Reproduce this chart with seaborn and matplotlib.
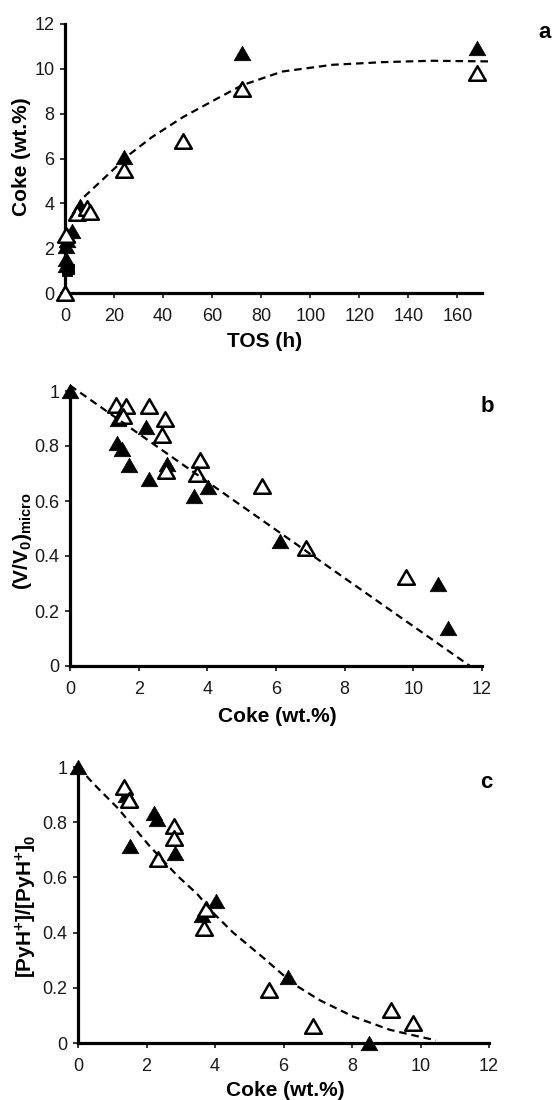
import numpy as np
import pandas as pd
import matplotlib
matplotlib.use("Agg")
import matplotlib.pyplot as plt
from matplotlib.path import Path
import seaborn as sns

# ---------------- data ----------------
# (a) coke content vs time on stream
a_fill_tos = [0, 0.25, 0.5, 0.5, 1, 1, 3, 6, 24, 72, 168]
a_fill_coke = [0, 1.25, 1.5, 2.1, 2.35, 2.6, 2.75, 3.9, 6.05, 10.7, 10.95]
a_open_tos = [0, 0.5, 5, 9, 10, 24, 48, 72, 168]
a_open_coke = [0, 2.6, 3.55, 3.8, 3.6, 5.5, 6.8, 9.1, 9.8]
a_sq_tos = [0.75, 1.5]
a_sq_coke = [1.0, 1.05]
a_trend_tos = [2.5, 7.6, 17.7, 26.5, 35.4, 48, 60.6, 72, 88.6, 109, 130, 149.5, 174]
a_trend_coke = [3.35, 4.27, 5.3, 6.2, 6.95, 7.84, 8.59, 9.26, 9.88, 10.18, 10.3, 10.36, 10.33]

# (b) relative micropore volume vs coke
b_fill_coke = [0, 1.41, 1.38, 1.52, 1.72, 2.21, 2.31, 2.83, 3.62, 4.03, 6.11, 10.72, 11.0]
b_fill_v = [1.0, 0.90, 0.81, 0.79, 0.73, 0.87, 0.68, 0.735, 0.62, 0.65, 0.455, 0.30, 0.14]
b_open_coke = [1.34, 1.63, 1.53, 2.31, 2.76, 2.67, 2.81, 3.78, 3.69, 5.6, 6.86, 9.8]
b_open_v = [0.95, 0.945, 0.91, 0.945, 0.90, 0.84, 0.71, 0.75, 0.70, 0.655, 0.43, 0.325]
b_trend_coke = [0, 11.65]
b_trend_v = [1.02, 0.0]

# (c) relative Brønsted acidity (pyridinium) vs coke
c_fill_coke = [0, 1.41, 1.51, 1.51, 2.21, 2.31, 2.82, 3.63, 4.02, 6.13, 8.5]
c_fill_py = [1.0, 0.897, 0.88, 0.715, 0.833, 0.81, 0.69, 0.464, 0.515, 0.239, 0.0]
c_open_coke = [1.33, 1.49, 2.34, 2.8, 2.8, 3.75, 3.68, 5.58, 6.86, 9.13, 9.79]
c_open_py = [0.927, 0.879, 0.667, 0.788, 0.743, 0.485, 0.418, 0.191, 0.06, 0.12, 0.072]
c_trend_coke = [0, 0.55, 1.17, 2.08, 2.9, 3.48, 4.0, 4.53, 5.4, 6.28, 7.06, 8.03, 9.1, 10.0, 10.45]
c_trend_py = [1.0, 0.927, 0.85, 0.715, 0.606, 0.54, 0.465, 0.40, 0.31, 0.215, 0.155, 0.096, 0.048, 0.022, 0.01]

# ticks
a_xticks = [0, 20, 40, 60, 80, 100, 120, 140, 160]
a_yticks = [0, 2, 4, 6, 8, 10, 12]
bc_xticks = [0, 2, 4, 6, 8, 10, 12]
bc_yticks = [0, 0.2, 0.4, 0.6, 0.8, 1.0]
bc_yticklabels = ["0", "0.2", "0.4", "0.6", "0.8", "1"]

# ---------------- style ----------------
sns.set_theme(style="ticks")
plt.rcParams["font.family"] = ["Liberation Sans", "DejaVu Sans"]
plt.rcParams["mathtext.fontset"] = "custom"
plt.rcParams["mathtext.rm"] = "Liberation Sans"
plt.rcParams["mathtext.bf"] = "Liberation Sans:bold"
plt.rcParams["mathtext.it"] = "Liberation Sans:italic"
plt.rcParams["mathtext.default"] = "bf"

W, H = 555, 1100
fig = plt.figure(figsize=(W / 100, H / 100), dpi=100)


def px_axes(left, right, top, bottom):
    return fig.add_axes([left / W, 1 - bottom / H, (right - left) / W, (bottom - top) / H])


ax_a = px_axes(65, 482, 24, 293)
ax_b = px_axes(70, 482, 391, 666)
ax_c = px_axes(78, 489, 767, 1043)

# closed equilateral triangle marker
tri = Path([(-1, -0.866), (1, -0.866), (0, 0.866), (-1, -0.866)],
           [Path.MOVETO, Path.LINETO, Path.LINETO, Path.CLOSEPOLY])
MS = 145
dash = (0, (3.4, 2.2))


def style_axes(ax):
    sns.despine(ax=ax)
    for s in ("left", "bottom"):
        ax.spines[s].set_linewidth(2.3)
        ax.spines[s].set_color("black")
    ax.tick_params(axis="both", which="major", length=3.5, width=1.1,
                   color="black", labelsize=13, labelcolor="#1a1a1a")
    ax.tick_params(axis="y", pad=4)
    ax.tick_params(axis="x", pad=7)
    ax.set_facecolor("white")
    ax.set_xlabel("")
    ax.set_ylabel("")


def draw_points(ax, x, y, filled):
    if filled:
        sns.scatterplot(x=x, y=y, ax=ax, marker=tri, s=MS, color="black",
                        edgecolor="black", linewidth=0.5, clip_on=False, zorder=3)
    else:
        sns.scatterplot(x=x, y=y, ax=ax, marker=tri, s=MS, facecolor="white",
                        edgecolor="black", linewidth=1.8, clip_on=False, zorder=4)


def draw_trend(ax, x, y):
    sns.lineplot(x=x, y=y, ax=ax, color="black", linewidth=1.6, linestyle=dash,
                 sort=False, estimator=None, clip_on=False, zorder=5)


# panel a
draw_points(ax_a, a_fill_tos, a_fill_coke, True)
sns.scatterplot(x=a_sq_tos, y=a_sq_coke, ax=ax_a, marker="s", s=60, color="black",
                edgecolor="black", clip_on=False, zorder=3)
draw_points(ax_a, a_open_tos, a_open_coke, False)
draw_trend(ax_a, a_trend_tos, a_trend_coke)
ax_a.set_xlim(0, 170)
ax_a.set_ylim(0, 12)
ax_a.set_xticks(a_xticks)
ax_a.set_yticks(a_yticks)
style_axes(ax_a)

# panel b
draw_points(ax_b, b_open_coke, b_open_v, False)
draw_points(ax_b, b_fill_coke, b_fill_v, True)
draw_trend(ax_b, b_trend_coke, b_trend_v)
ax_b.set_xlim(0, 12)
ax_b.set_ylim(0, 1)
ax_b.set_xticks(bc_xticks)
ax_b.set_yticks(bc_yticks)
ax_b.set_yticklabels(bc_yticklabels)
style_axes(ax_b)

# panel c
draw_points(ax_c, c_fill_coke, c_fill_py, True)
draw_points(ax_c, c_open_coke, c_open_py, False)
draw_trend(ax_c, c_trend_coke, c_trend_py)
ax_c.set_xlim(0, 12)
ax_c.set_ylim(0, 1)
ax_c.set_xticks(bc_xticks)
ax_c.set_yticks(bc_yticks)
ax_c.set_yticklabels(bc_yticklabels)
style_axes(ax_c)

# axis titles and panel letters
lab = dict(fontsize=15, fontweight="bold", color="black", ha="center", va="center")
fig.text(265 / W, 1 - 341 / H, "TOS (h)", **lab)
fig.text(277 / W, 1 - 716 / H, "Coke (wt.%)", **lab)
fig.text(285 / W, 1 - 1091 / H, "Coke (wt.%)", **lab)
fig.text(22 / W, 1 - 157 / H, "Coke (wt.%)", rotation=90, **lab)
fig.text(22 / W, 1 - 541 / H, r"(V/V$_0$)$_{micro}$", rotation=90, **lab)
fig.text(26 / W, 1 - 906 / H, r"[PyH$^{+}$]/[PyH$^{+}$]$_0$", rotation=90, **lab)

let = dict(fontsize=16, fontweight="bold", color="black", ha="center", va="center")
fig.text(545 / W, 1 - 32 / H, "a", **let)
fig.text(487 / W, 1 - 407 / H, "b", **let)
fig.text(486 / W, 1 - 783 / H, "c", **let)

fig.savefig("out.png", dpi=100, facecolor="white")
